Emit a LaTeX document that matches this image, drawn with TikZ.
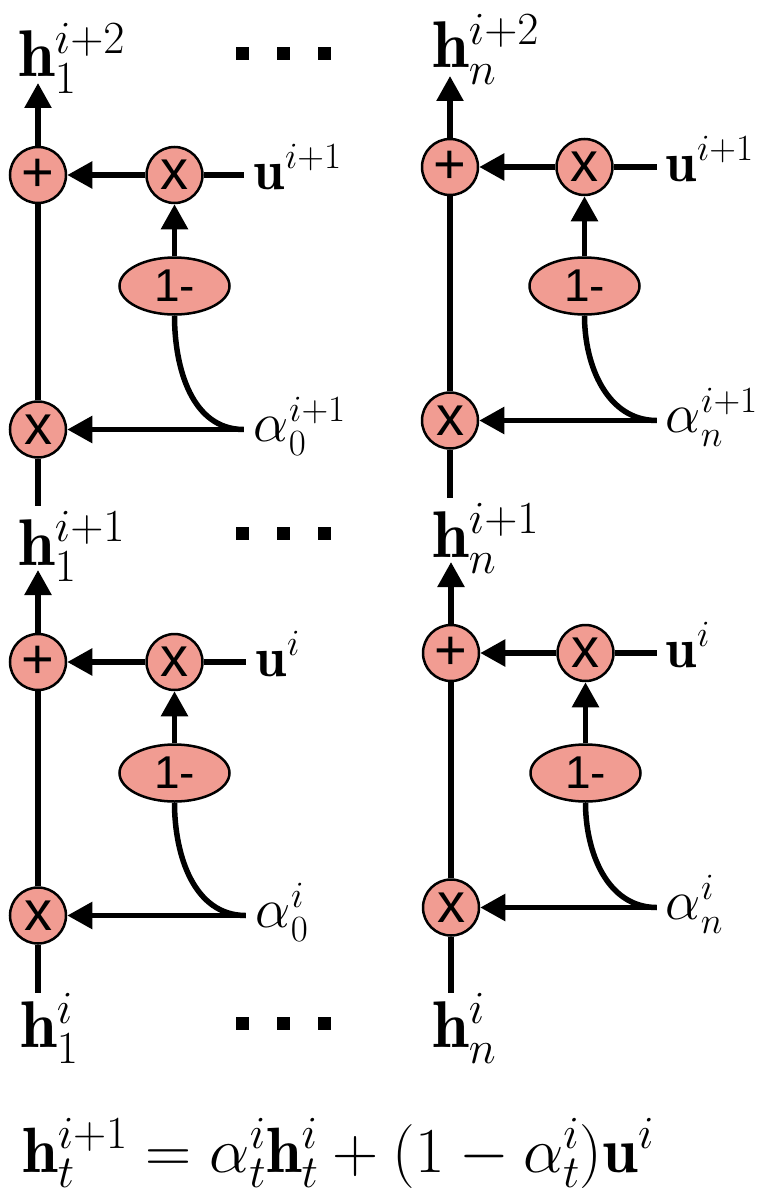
\RequirePackage{fix-cm}
\documentclass[tikz,border=0pt]{standalone}
\usepackage{fontspec}
\newfontfamily\opfont{Liberation Sans}
\usetikzlibrary{arrows.meta,positioning,shapes.geometric}
\definecolor{opfill}{RGB}{241,156,146}
\DeclareMathSizes{66}{66}{46}{36}
\DeclareMathSizes{64}{64}{46}{36}
\DeclareMathSizes{56}{56}{37}{30}

\begin{document}
\begin{tikzpicture}[
    x=1pt, y=-1pt,
    op/.style={circle, draw, line width=2.5pt, fill=opfill, minimum size=56pt,
      inner sep=0pt, font=\opfont\fontsize{56}{56}\selectfont},
    negop/.style={ellipse, draw, line width=2.5pt, fill=opfill, minimum width=110pt,
      minimum height=57pt, inner sep=0pt, font=\opfont\fontsize{46}{46}\selectfont},
    lab/.style={inner sep=0pt, anchor=base west, font=\fontsize{56}{64}\selectfont},
    hlab/.style={inner sep=0pt, anchor=base west, font=\fontsize{66}{72}\selectfont},
    wire/.style={line width=5.5pt},
    arr/.style={line width=5.5pt, -{Triangle[length=25pt,width=26pt]}},
    dots/.style={inner sep=0pt}
  ]
    \useasboundingbox (0,0) rectangle (768,1204);
    \newcommand{\sqdots}{\rule{13pt}{13pt}\hspace{28pt}\rule{13pt}{13pt}\hspace{28pt}\rule{13pt}{13pt}}

    % layer i+1, first unit
    \node[op] (add1t) at (38,175) {+};
    \node[op, right=78pt of add1t] (mulu1t) {x};
    \node[negop, below=52pt of mulu1t] (neg1t) {1-};
    \node[op, below=196pt of add1t] (mula1t) {x};
    \coordinate[right=40pt of mulu1t] (uin1t);
    \coordinate (ain1t) at (uin1t |- mula1t);
    \node[lab] (u1t) at ([xshift=10pt, yshift=-14pt]uin1t) {$\mathbf{u}^{i+1}$};
    \node[lab] (a1t) at ([xshift=10pt, yshift=-12pt]ain1t) {$\alpha_0^{i+1}$};
    \node[hlab] (h1top) at (18,77) {$\mathbf{h}_1^{i+2}$};

    % layer i+1, last unit
    \node[op] (addnt) at (450,167) {+};
    \node[op, right=76pt of addnt] (mulunt) {x};
    \node[negop, below=60pt of mulunt] (negnt) {1-};
    \node[op, below=195pt of addnt] (mulant) {x};
    \coordinate[right=43pt of mulunt] (uinnt);
    \coordinate (ainnt) at (uinnt |- mulant);
    \node[lab] (unt) at ([xshift=9pt, yshift=-14pt]uinnt) {$\mathbf{u}^{i+1}$};
    \node[lab] (ant) at ([xshift=9pt, yshift=-12pt]ainnt) {$\alpha_n^{i+1}$};
    \node[hlab] (hntop) at (432,68) {$\mathbf{h}_n^{i+2}$};

    % layer i, first unit
    \node[op] (add1b) at (38,662) {+};
    \node[op, right=78pt of add1b] (mulu1b) {x};
    \node[negop, below=52pt of mulu1b] (neg1b) {1-};
    \node[op, below=195pt of add1b] (mula1b) {x};
    \coordinate[right=42pt of mulu1b] (uin1b);
    \coordinate (ain1b) at (uin1b |- mula1b);
    \node[lab] (u1b) at ([xshift=10pt, yshift=-14pt]uin1b) {$\mathbf{u}^{i}$};
    \node[lab] (a1b) at ([xshift=10pt, yshift=-12pt]ain1b) {$\alpha_0^{i}$};
    \node[hlab] (h1mid) at (18,565) {$\mathbf{h}_1^{i+1}$};
    \node[hlab] (h1bot) at (20,1047) {$\mathbf{h}_1^{i}$};

    % layer i, last unit
    \node[op] (addnb) at (451,653) {+};
    \node[op, right=76pt of addnb] (mulunb) {x};
    \node[negop, below=61pt of mulunb] (negnb) {1-};
    \node[op, below=196pt of addnb] (mulanb) {x};
    \coordinate[right=42pt of mulunb] (uinnb);
    \coordinate (ainnb) at (uinnb |- mulanb);
    \node[lab] (unb) at ([xshift=9pt, yshift=-14pt]uinnb) {$\mathbf{u}^{i}$};
    \node[lab] (anb) at ([xshift=9pt, yshift=-12pt]ainnb) {$\alpha_n^{i}$};
    \node[hlab] (hnmid) at (432,557) {$\mathbf{h}_n^{i+1}$};
    \node[hlab] (hnbot) at (432,1047) {$\mathbf{h}_n^{i}$};

    \node[dots] (dots1) at (283,54) {\sqdots};
    \node[dots] (dots2) at (283,533) {\sqdots};
    \node[dots] (dots3) at (283,1023) {\sqdots};

    \node[hlab, font=\fontsize{64}{72}\selectfont] (update) at (22,1172)
      {$\mathbf{h}_t^{i+1} = \alpha_t^i\mathbf{h}_t^i + (1-\alpha_t^i)\mathbf{u}^i$};

    % connectors, layer i+1
    \draw[wire] (mula1t) -- (add1t);
    \draw[arr, shorten >=6pt] (add1t) -- (add1t |- h1top.base);
    \draw[arr] (mulu1t) -- (add1t);
    \draw[wire] (uin1t) -- (mulu1t);
    \draw[arr] (neg1t) -- (mulu1t);
    \draw[wire] (neg1t) to[out=-90, in=180] (ain1t);
    \draw[arr] (ain1t) -- (mula1t);
    \draw[wire, shorten >=5pt] (mula1t) -- (mula1t |- h1mid.north);

    \draw[wire] (mulant) -- (addnt);
    \draw[arr, shorten >=8pt] (addnt) -- (addnt |- hntop.base);
    \draw[arr] (mulunt) -- (addnt);
    \draw[wire] (uinnt) -- (mulunt);
    \draw[arr] (negnt) -- (mulunt);
    \draw[wire] (negnt) to[out=-90, in=180] (ainnt);
    \draw[arr] (ainnt) -- (mulant);
    \draw[wire, shorten >=5pt] (mulant) -- (mulant |- hnmid.north);

    % connectors, layer i
    \draw[wire] (mula1b) -- (add1b);
    \draw[arr, shorten >=5pt] (add1b) -- (add1b |- h1mid.base);
    \draw[arr] (mulu1b) -- (add1b);
    \draw[wire] (uin1b) -- (mulu1b);
    \draw[arr] (neg1b) -- (mulu1b);
    \draw[wire] (neg1b) to[out=-90, in=180] (ain1b);
    \draw[arr] (ain1b) -- (mula1b);
    \draw[wire] (mula1b) -- (mula1b |- h1bot.north);

    \draw[wire] (mulanb) -- (addnb);
    \draw[arr, shorten >=5pt] (addnb) -- (addnb |- hnmid.base);
    \draw[arr] (mulunb) -- (addnb);
    \draw[wire] (uinnb) -- (mulunb);
    \draw[arr] (negnb) -- (mulunb);
    \draw[wire] (negnb) to[out=-90, in=180] (ainnb);
    \draw[arr] (ainnb) -- (mulanb);
    \draw[wire] (mulanb) -- (mulanb |- hnbot.north);
  \end{tikzpicture}
\end{document}
